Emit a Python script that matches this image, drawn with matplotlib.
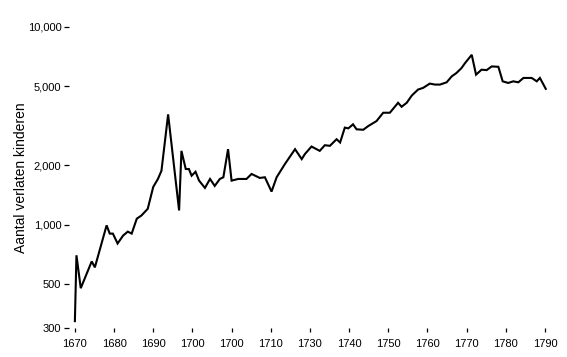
import matplotlib
matplotlib.use("Agg")
import matplotlib.pyplot as plt
from matplotlib.ticker import FixedLocator, NullLocator

plt.rcParams['font.family'] = ['Liberation Sans', 'DejaVu Sans']

# jaartallen en aantal verlaten kinderen
jaren = [1670.0, 1670.4, 1671.5, 1674.3, 1675.1, 1678.1, 1678.9, 1679.7, 1680.9,
         1682.3, 1683.5, 1684.5, 1685.8, 1687.0, 1688.6, 1690.0, 1691.2, 1692.1,
         1693.8, 1696.6, 1697.2, 1698.3, 1699.1, 1699.8, 1700.8, 1701.7, 1703.2,
         1704.5, 1705.7, 1707.0, 1707.9, 1709.1, 1710.0, 1711.7, 1713.8, 1715.1,
         1717.2, 1718.5, 1720.2, 1721.5, 1723.6, 1726.2, 1727.9, 1728.7, 1730.4,
         1732.5, 1733.8, 1735.1, 1736.8, 1737.7, 1738.9, 1739.8, 1741.0, 1741.9,
         1743.6, 1744.9, 1747.0, 1748.7, 1750.4, 1752.5, 1753.4, 1754.7, 1756.0,
         1757.6, 1758.9, 1760.6, 1761.9, 1763.2, 1764.9, 1766.2, 1767.4, 1768.7,
         1769.6, 1771.3, 1772.4, 1773.8, 1775.1, 1776.4, 1778.1, 1779.2, 1780.6,
         1781.9, 1783.2, 1784.5, 1786.6, 1787.9, 1788.7, 1790.2]
aantal = [325, 700, 477, 652, 608, 992, 901, 901, 803,
          880, 922, 901, 1072, 1113, 1203, 1552, 1703, 1874,
          3613, 1180, 2362, 1912, 1912, 1769, 1852, 1670, 1534,
          1703, 1570, 1703, 1737, 2409, 1670, 1703, 1703, 1805,
          1723, 1737, 1470, 1737, 2025, 2409, 2146, 2274, 2485,
          2362, 2523, 2505, 2705, 2604, 3097, 3070, 3218, 3037,
          3020, 3155, 3343, 3683, 3683, 4135, 3948, 4135, 4500,
          4825, 4920, 5172, 5113, 5113, 5250, 5627, 5851, 6200,
          6570, 7233, 5738, 6081, 6050, 6317, 6290, 5310, 5210,
          5310, 5250, 5524, 5524, 5310, 5524, 4864]

x_ticks = list(range(1670, 1791, 10))
x_labels = ['1670', '1680', '1690', '1700', '1700', '1710', '1730',
            '1740', '1750', '1760', '1770', '1780', '1790']
y_ticks = [300, 500, 1000, 2000, 5000, 10000]
y_labels = ['300', '500', '1,000', '2,000', '5,000', '10,000']

fig = plt.figure(figsize=(5.67, 3.57), dpi=100)
ax = fig.add_axes([0.1217, 0.0812, 0.8533, 0.8432])

ax.plot(jaren, aantal, color='black', linewidth=1.5, solid_joinstyle='miter')

ax.set_yscale('log')
ax.set_ylim(300, 10000)
ax.set_xlim(1668.5, 1792)

ax.yaxis.set_major_locator(FixedLocator(y_ticks))
ax.yaxis.set_minor_locator(NullLocator())
ax.set_yticklabels(y_labels)
ax.set_xticks(x_ticks)
ax.set_xticklabels(x_labels)

for s in ax.spines.values():
    s.set_visible(False)

ax.tick_params(axis='y', direction='out', length=3.5, width=0.9, pad=2, labelsize=8)
ax.tick_params(axis='x', direction='out', length=3, width=0.9, pad=5, labelsize=8)

ax.set_ylabel('Aantal verlaten kinderen', fontsize=10, labelpad=0)

fig.savefig('out.png', dpi=100, facecolor='white')
